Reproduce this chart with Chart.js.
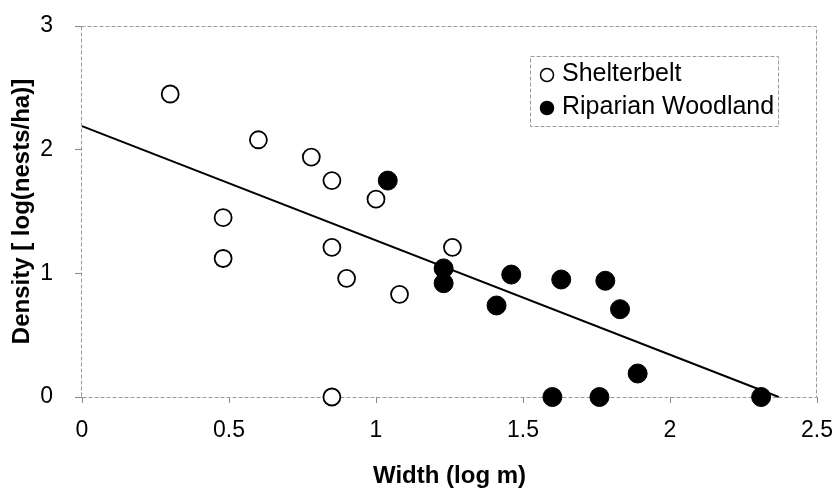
<!DOCTYPE html>
<html>
<head>
<meta charset="utf-8">
<script src="https://cdn.jsdelivr.net/npm/chart.js@4.4.1/dist/chart.umd.min.js"></script>
<style>
  html, body { margin: 0; padding: 0; background: #fff; }
</style>
</head>
<body>
<canvas id="chart" width="836" height="491"></canvas>
<script>
// Shelterbelt sites (open circles)
const shelterWidth   = [0.30, 0.60, 0.78, 0.85, 1.00, 0.48, 0.48, 0.85, 0.90, 1.08, 1.26, 0.85];
const shelterDensity = [2.45, 2.08, 1.94, 1.75, 1.60, 1.45, 1.12, 1.21, 0.96, 0.83, 1.21, 0.00];

// Riparian woodland sites (filled circles)
const riparianWidth   = [1.04, 1.23, 1.23, 1.46, 1.41, 1.63, 1.78, 1.83, 1.89, 1.60, 1.76, 2.31];
const riparianDensity = [1.75, 1.04, 0.92, 0.99, 0.74, 0.95, 0.94, 0.71, 0.19, 0.00, 0.00, 0.00];

// regression line end points
const fitWidth   = [0, 2.37];
const fitDensity = [2.19, 0];

const xTicks = [0, 0.5, 1, 1.5, 2, 2.5];
const yTicks = [0, 1, 2, 3];

const FONT = '"Liberation Sans", Arial, sans-serif';

const toPoints = (xs, ys) => xs.map((x, i) => ({ x: x, y: ys[i] }));

// dashed frame round the plot area
const plotFrame = {
    id: 'plotFrame',
    beforeDatasetsDraw(chart) {
        const { ctx, chartArea: a } = chart;
        ctx.save();
        ctx.strokeStyle = '#9a9a9a';
        ctx.lineWidth = 1;
        ctx.setLineDash([4, 2]);
        ctx.strokeRect(a.left - 0.5, a.top + 0.5, a.right - a.left, a.bottom - a.top);
        ctx.restore();
    }
};

// legend box inside the plot, top right
const boxLegend = {
    id: 'boxLegend',
    afterDatasetsDraw(chart) {
        const { ctx, chartArea: a } = chart;
        const left = a.right - 287, top = a.top + 30, w = 248, h = 70;
        ctx.save();
        ctx.fillStyle = '#fff';
        ctx.fillRect(left, top, w, h);
        ctx.strokeStyle = '#9a9a9a';
        ctx.lineWidth = 1;
        ctx.setLineDash([4, 2]);
        ctx.strokeRect(left + 0.5, top + 0.5, w, h);
        ctx.setLineDash([]);
        ctx.font = '25px ' + FONT;
        ctx.textBaseline = 'middle';
        let row = 0;
        chart.data.datasets.forEach(ds => {
            if (!ds.inLegend) return;
            const cy = top + 18 + row * 33;
            ctx.beginPath();
            ctx.arc(left + 17, cy + 1, 6.5, 0, Math.PI * 2);
            ctx.fillStyle = ds.backgroundColor;
            ctx.fill();
            ctx.strokeStyle = '#000';
            ctx.lineWidth = 1.5;
            ctx.stroke();
            ctx.fillStyle = '#000';
            ctx.fillText(ds.label, left + 32, cy);
            row++;
        });
        ctx.restore();
    }
};

new Chart(document.getElementById('chart'), {
    type: 'scatter',
    data: {
        datasets: [
            {
                label: 'Fit',
                type: 'line',
                data: toPoints(fitWidth, fitDensity),
                borderColor: '#000',
                borderWidth: 2,
                pointRadius: 0,
                fill: false,
                clip: false
            },
            {
                label: 'Shelterbelt',
                inLegend: true,
                data: toPoints(shelterWidth, shelterDensity),
                backgroundColor: '#fff',
                borderColor: '#000',
                borderWidth: 1.8,
                pointRadius: 8.5,
                clip: false
            },
            {
                label: 'Riparian Woodland',
                inLegend: true,
                data: toPoints(riparianWidth, riparianDensity),
                backgroundColor: '#000',
                borderColor: '#000',
                borderWidth: 1,
                pointRadius: 9.5,
                clip: false
            }
        ]
    },
    options: {
        responsive: false,
        animation: false,
        devicePixelRatio: 1,
        layout: { padding: { top: 26, right: 19, left: 0, bottom: 0 } },
        plugins: {
            legend: { display: false },
            tooltip: { enabled: false }
        },
        scales: {
            x: {
                type: 'linear',
                min: 0,
                max: 2.5,
                afterBuildTicks: s => { s.ticks = xTicks.map(v => ({ value: v })); },
                // fixed height, and no extra room for the end labels
                afterFit: s => { s.height = 94; s.paddingLeft = 0; s.paddingRight = 0; },
                border: { display: false },
                grid: { drawOnChartArea: false, tickLength: 6, color: '#888' },
                ticks: {
                    color: '#000',
                    padding: 14,
                    font: { family: FONT, size: 23 },
                    callback: v => String(v)
                },
                title: {
                    display: true,
                    text: 'Width (log m)',
                    color: '#000',
                    padding: { top: 0, bottom: 0 },
                    font: { family: FONT, size: 24, weight: 'bold' }
                }
            },
            y: {
                type: 'linear',
                min: 0,
                max: 3,
                afterBuildTicks: s => { s.ticks = yTicks.map(v => ({ value: v })); },
                afterFit: s => { s.width = 82; s.paddingTop = 0; s.paddingBottom = 0; },
                border: { display: false },
                grid: { drawOnChartArea: false, tickLength: 7, color: '#888' },
                ticks: {
                    color: '#000',
                    padding: 22,
                    font: { family: FONT, size: 23 },
                    callback: v => String(v)
                },
                title: {
                    display: true,
                    text: 'Density [ log(nests/ha)]',
                    color: '#000',
                    padding: { top: 8, bottom: 0 },
                    font: { family: FONT, size: 24, weight: 'bold' }
                }
            }
        }
    },
    plugins: [plotFrame, boxLegend]
});
</script>
</body>
</html>
